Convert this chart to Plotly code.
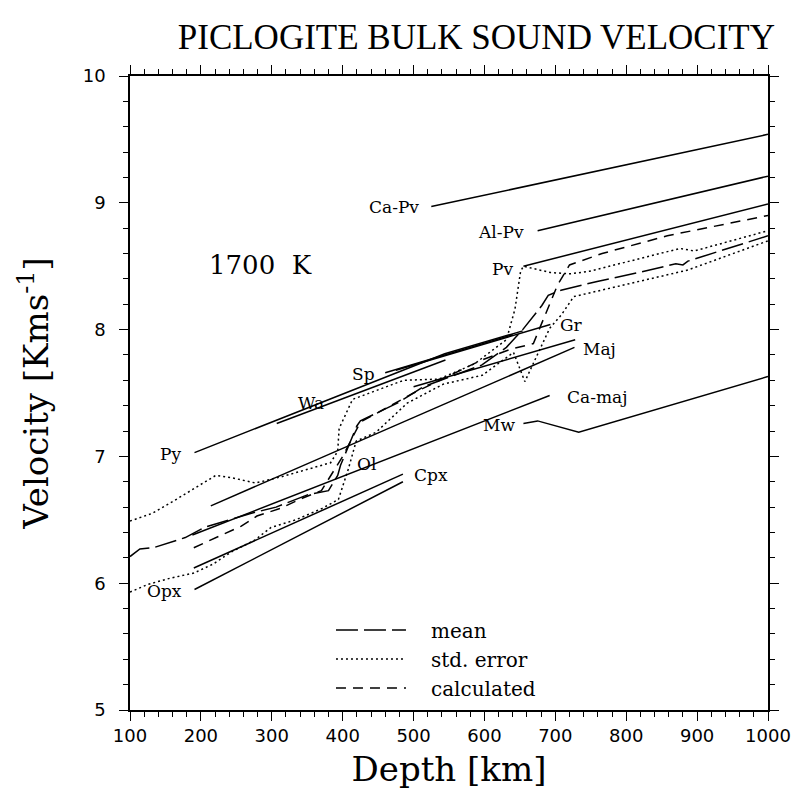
import plotly.graph_objects as go

# ---- data (depth km, velocity km/s) ----
capv_d = [525, 1000]; capv_v = [8.97, 9.54]
alpv_d = [675, 1000]; alpv_v = [8.78, 9.21]
pv_d = [655, 1000]; pv_v = [8.50, 8.99]
sp_d = [460, 640]; sp_v = [7.66, 7.96]
wa_d = [307, 545]; wa_v = [7.26, 7.76]
py_d = [191, 544, 654]; py_v = [7.03, 7.81, 7.99]
gr_d = [475, 693]; gr_v = [7.68, 8.04]
maj_d = [214, 727]; maj_v = [6.61, 7.86]
maj2_d = [500, 728]; maj2_v = [7.55, 7.92]
camaj_d = [188, 692]; camaj_v = [6.38, 7.48]
cpx_d = [190, 485]; cpx_v = [6.12, 6.86]
opx_d = [191, 485]; opx_v = [5.95, 6.80]
mw_d = [655, 675, 733, 1000]; mw_v = [7.26, 7.28, 7.19, 7.63]

mean_d = [100, 114, 133, 178, 205, 270, 306, 352, 380, 393, 397, 420, 425, 477, 514, 596, 631, 654, 681, 690, 708, 759, 822, 870, 880, 887, 1000]
mean_v = [6.21, 6.27, 6.28, 6.36, 6.44, 6.55, 6.60, 6.70, 6.73, 6.85, 6.93, 7.24, 7.28, 7.42, 7.55, 7.72, 7.86, 8.00, 8.19, 8.27, 8.31, 8.38, 8.455, 8.52, 8.51, 8.54, 8.74]

up_d = [100, 131, 162, 194, 221, 245, 277, 314, 351, 383, 393, 395, 414, 486, 536, 586, 631, 643, 651, 655, 693, 721, 748, 876, 896, 1000]
up_v = [6.49, 6.55, 6.65, 6.76, 6.85, 6.83, 6.79, 6.84, 6.90, 6.95, 7.04, 7.22, 7.45, 7.60, 7.61, 7.73, 7.92, 8.16, 8.46, 8.50, 8.45, 8.44, 8.46, 8.64, 8.62, 8.78]

lo_d = [100, 125, 157, 190, 217, 244, 276, 299, 334, 371, 394, 408, 419, 447, 491, 542, 597, 641, 657, 670, 692, 709, 726, 887, 1000]
lo_v = [5.93, 5.99, 6.04, 6.08, 6.15, 6.25, 6.34, 6.44, 6.50, 6.59, 6.66, 6.90, 7.12, 7.19, 7.42, 7.57, 7.64, 7.82, 7.59, 7.75, 8.01, 8.12, 8.26, 8.47, 8.70]

calc_d = [190, 257, 279, 312, 343, 370, 400, 425, 500, 596, 637, 669, 703, 720, 766, 858, 1000]
calc_v = [6.28, 6.45, 6.53, 6.59, 6.67, 6.73, 7.00, 7.27, 7.50, 7.76, 7.845, 7.89, 8.35, 8.51, 8.60, 8.74, 8.90]

labels = [
    ("Ca-Pv", 472, 8.97), ("Al-Pv", 624, 8.77), ("Pv", 626, 8.475), ("Sp", 430, 7.65),
    ("Wa", 355, 7.42), ("Py", 157, 7.02), ("Opx", 149, 5.94), ("Cpx", 525, 6.85),
    ("Ol", 434, 6.94), ("Gr", 723, 8.04), ("Maj", 763, 7.85), ("Ca-maj", 759, 7.47),
    ("Mw", 621, 7.25),
]

SERIF = "DejaVu Serif"
PAD = "\u2003"
fig = go.Figure()

def solid(d, v):
    fig.add_trace(go.Scatter(x=d, y=v, mode="lines", line=dict(color="black", width=1.5),
                             showlegend=False, hoverinfo="skip"))

for d, v in [(capv_d, capv_v), (alpv_d, alpv_v), (pv_d, pv_v), (sp_d, sp_v), (wa_d, wa_v),
             (py_d, py_v), (gr_d, gr_v), (maj_d, maj_v), (maj2_d, maj2_v), (camaj_d, camaj_v),
             (cpx_d, cpx_v), (opx_d, opx_v), (mw_d, mw_v)]:
    solid(d, v)

fig.add_trace(go.Scatter(x=mean_d, y=mean_v, mode="lines", name=PAD + "mean",
                         line=dict(color="black", width=1.5, dash="22px,6px")))
fig.add_trace(go.Scatter(x=up_d, y=up_v, mode="lines", name=PAD + "std. error",
                         line=dict(color="black", width=1.5, dash="2px,3px")))
fig.add_trace(go.Scatter(x=lo_d, y=lo_v, mode="lines", showlegend=False,
                         line=dict(color="black", width=1.5, dash="2px,3px")))
fig.add_trace(go.Scatter(x=calc_d, y=calc_v, mode="lines", name=PAD + "calculated",
                         line=dict(color="black", width=1.5, dash="10px,7px")))

for t, x, y in labels:
    fig.add_annotation(x=x, y=y, text=t, showarrow=False,
                       font=dict(family=SERIF, size=17, color="black"))

fig.add_annotation(x=284, y=8.51, text="1700  K", showarrow=False,
                   font=dict(family=SERIF, size=26, color="black"))

axis_common = dict(showgrid=False, zeroline=False, showline=True, linecolor="black",
                   linewidth=1.6, mirror="ticks", ticks="outside", tickcolor="black",
                   tickwidth=1.4, ticklen=9, automargin=False, ticklabeloverflow="allow",
                   tickfont=dict(family="DejaVu Sans", size=18, color="black"))

fig.update_xaxes(range=[100, 1000], dtick=100, tick0=100,
                 minor=dict(dtick=20, ticks="outside", ticklen=5, tickcolor="black", tickwidth=1.2),
                 title=dict(text="Depth [km]", font=dict(family=SERIF, size=34, color="black"), standoff=12),
                 **axis_common)
fig.update_yaxes(range=[5, 10], dtick=1, ticklabelstandoff=10,
                 minor=dict(dtick=0.2, ticks="outside", ticklen=5, tickcolor="black", tickwidth=1.2),
                 title=dict(text="Velocity [Kms<sup>-1</sup>]", font=dict(family=SERIF, size=34, color="black"), standoff=24),
                 **axis_common)

fig.update_layout(
    width=794, height=798,
    margin=dict(l=130, r=26, t=76, b=88),
    paper_bgcolor="white", plot_bgcolor="white",
    title=dict(text="PICLOGITE BULK SOUND VELOCITY", x=0.6, xanchor="center", y=0.954, yanchor="middle",
               font=dict(family="Liberation Serif", size=35, color="black")),
    legend=dict(x=0.315, y=0.004, xanchor="left", yanchor="bottom", bgcolor="rgba(0,0,0,0)",
                font=dict(family=SERIF, size=20, color="black"), itemwidth=70, tracegroupgap=0),
)

fig.write_html("out.html")
